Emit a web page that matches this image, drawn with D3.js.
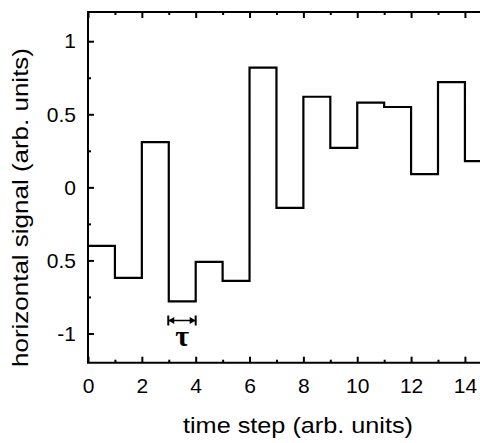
<!DOCTYPE html>
<html>
<head>
<meta charset="utf-8">
<script src="https://cdn.jsdelivr.net/npm/d3@7"></script>
<style>
    body { margin: 0; background: #fff; }
    svg { display: block; }
    .tick text { font-family: "Liberation Sans", Arial, sans-serif; font-size: 21px; fill: #000; }
</style>
</head>
<body>
<svg id="chart"></svg>
<script>
// 数据: 每个时间步的信号值 (宽度为 1)
const steps = [0, 1, 2, 3, 4, 5, 6, 7, 8, 9, 10, 11, 12, 13, 14];
const values = [-0.40, -0.62, 0.31, -0.78, -0.51, -0.64, 0.82, -0.14, 0.62, 0.27, 0.58, 0.55, 0.09, 0.72, 0.18];
const xTickMajor = [0, 2, 4, 6, 8, 10, 12, 14];
const xTickMinor = [1, 3, 5, 7, 9, 11, 13];
const yTickMajor = [1, 0.5, 0, -0.5, -1];
const yTickLabels = ['1', '0.5', '0', '0.5', '-1'];
const yTickMinor = [0.75, 0.25, -0.25, -0.75];
const tauSpan = [3, 4];

let width = 480, height = 443;
let margin = {left: 88, top: 12, right: 0, bottom: 80};

let svg = d3.select('#chart')
    .attr('width', width)
    .attr('height', height);

// 比例尺
let x = d3.scaleLinear()
    .domain([0, 14.56])
    .range([margin.left, width - margin.right]);
let y = d3.scaleLinear()
    .domain([-1.2, 1.2])
    .range([height - margin.bottom - 0.3, margin.top]);

let x0 = x.range()[0], x1 = x.range()[1];
let y0 = y.range()[0], y1 = y.range()[1];

// 画坐标轴 (底部 + 顶部)
let xAxisB = d3.axisBottom(x).tickValues(xTickMajor).tickSize(-6).tickPadding(15).tickFormat(d3.format('d'));
let xAxisT = d3.axisTop(x).tickValues(xTickMajor).tickSize(-6).tickFormat('');
let yAxisL = d3.axisLeft(y).tickValues(yTickMajor).tickSize(-6).tickPadding(12)
    .tickFormat((d, i) => yTickLabels[i]);

function styleAxis(g) {
    g.select('.domain').remove();
    g.selectAll('.tick line').attr('stroke', '#000').attr('stroke-width', 2);
}

svg.append('g').attr('transform', 'translate(0,' + y0 + ')').call(xAxisB).call(styleAxis);
svg.append('g').attr('transform', 'translate(0,' + y1 + ')').call(xAxisT).call(styleAxis);
svg.append('g').attr('transform', 'translate(' + x0 + ',0)').call(yAxisL).call(styleAxis);

// 次刻度
svg.append('g').attr('transform', 'translate(0,' + y0 + ')')
    .call(d3.axisBottom(x).tickValues(xTickMinor).tickSize(-3).tickFormat('')).call(styleAxis);
svg.append('g').attr('transform', 'translate(0,' + y1 + ')')
    .call(d3.axisTop(x).tickValues(xTickMinor).tickSize(-3).tickFormat('')).call(styleAxis);
svg.append('g').attr('transform', 'translate(' + x0 + ',0)')
    .call(d3.axisLeft(y).tickValues(yTickMinor).tickSize(-3).tickFormat('')).call(styleAxis);

// 边框 (左, 上, 下)
svg.append('path')
    .attr('d', 'M' + x1 + ',' + y1 + 'H' + x0 + 'V' + y0 + 'H' + x1)
    .attr('fill', 'none')
    .attr('stroke', '#000')
    .attr('stroke-width', 2);

// 阶梯线
let stepData = steps.map((s, i) => ({t: s, v: values[i]}));
stepData.push({t: 14.56, v: values[values.length - 1]});
let line = d3.line()
    .x(d => x(d.t))
    .y(d => y(d.v))
    .curve(d3.curveStepAfter);
svg.append('path')
    .datum(stepData)
    .attr('d', line)
    .attr('fill', 'none')
    .attr('stroke', '#000')
    .attr('stroke-width', 2.2);

// tau 标注
let ay = 320.5;
let ax1 = x(tauSpan[0]) - 0.5, ax2 = x(tauSpan[1]);
let tau = svg.append('g');
tau.append('line')
    .attr('x1', ax1).attr('x2', ax2).attr('y1', ay).attr('y2', ay)
    .attr('stroke', '#000').attr('stroke-width', 1.5);
[ax1, ax2].forEach(function (px) {
    tau.append('line')
        .attr('x1', px).attr('x2', px).attr('y1', ay - 5).attr('y2', ay + 5)
        .attr('stroke', '#000').attr('stroke-width', 2);
});
tau.append('path')
    .attr('d', 'M' + ax1 + ',' + ay + 'l6,-3.5v7z M' + ax2 + ',' + ay + 'l-6,-3.5v7z')
    .attr('fill', '#000');
tau.append('text')
    .attr('x', x((tauSpan[0] + tauSpan[1]) / 2))
    .attr('y', 346)
    .attr('text-anchor', 'middle')
    .style('font-family', '"Liberation Serif", "Times New Roman", serif')
    .style('font-size', '30px')
    .style('font-weight', 'bold')
    .text('τ');

// 坐标轴标题
svg.append('text')
    .attr('x', 298)
    .attr('y', 433)
    .attr('text-anchor', 'middle')
    .attr('textLength', 230)
    .attr('lengthAdjust', 'spacingAndGlyphs')
    .style('font-family', '"Liberation Sans", Arial, sans-serif')
    .style('font-size', '22px')
    .text('time step (arb. units)');
svg.append('text')
    .attr('transform', 'translate(27.5,207.5) rotate(-90)')
    .attr('text-anchor', 'middle')
    .attr('textLength', 319)
    .attr('lengthAdjust', 'spacingAndGlyphs')
    .style('font-family', '"Liberation Sans", Arial, sans-serif')
    .style('font-size', '22px')
    .text('horizontal signal (arb. units)');
</script>
</body>
</html>
